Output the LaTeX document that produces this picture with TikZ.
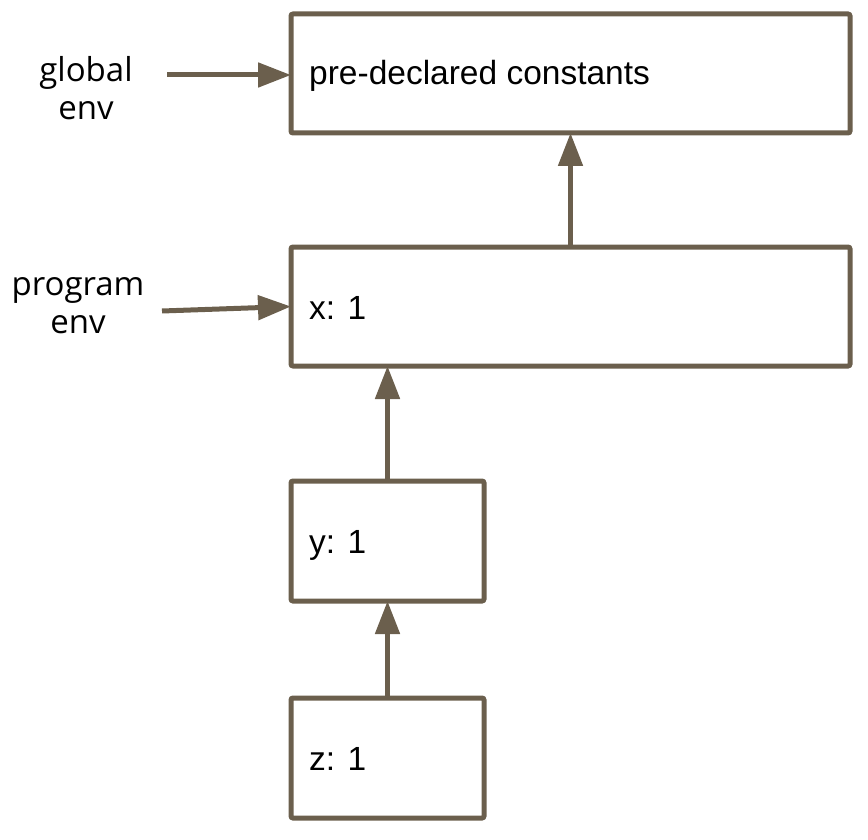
\documentclass[tikz,border=0pt]{standalone}
\usepackage{fontspec}
\setmainfont{Liberation Sans}
\newfontfamily\opensans{Open Sans}
\usetikzlibrary{arrows.meta}
\definecolor{envline}{RGB}{107,95,77}
\begin{document}
\begin{tikzpicture}[x=1pt,y=1pt,
  frame/.style={draw=envline, line width=5pt, rounded corners=2pt, outer sep=0pt, inner sep=0pt},
  link/.style={draw=envline, line width=5pt, -{Triangle[length=33pt,width=24pt]}},
  boxtext/.style={anchor=base west, inner sep=0pt, font=\fontsize{33.5}{38}\selectfont},
  envlabel/.style={align=center, inner sep=0pt, font=\opensans\fontsize{33}{38}\selectfont}]
\useasboundingbox (0,0) rectangle (868,-840);
\node[frame, minimum width=559pt, minimum height=119pt] (top) at (570.5,-73.5) {};
\node[frame, minimum width=559pt, minimum height=119pt] (prog) at (570.5,-306.5) {};
\node[frame, minimum width=193pt, minimum height=120pt] (ybox) at (387.5,-541) {};
\node[frame, minimum width=193pt, minimum height=120pt] (zbox) at (387.5,-758) {};
\node[boxtext] (ttop) at (309,-85) {pre-declared constants};
\node[boxtext] (tprog) at (309,-319) {x: 1};
\node[boxtext] (ty) at (309,-553) {y: 1};
\node[boxtext] (tz) at (309,-770) {z: 1};
\node[envlabel] (glab) at (86,-88) {global\\env};
\node[envlabel] (plab) at (78,-306) {program\\env};
\coordinate (gstart) at (167,-75);
\coordinate (pstart) at (162,-311);
\draw[link] (gstart) -- (gstart -| top.west);
\draw[link] (pstart) -- (prog.west);
\draw[link] (prog.north) -- (top.south);
\draw[link] (ybox.north) -- (ybox.north |- prog.south);
\draw[link] (zbox.north) -- (ybox.south);
\end{tikzpicture}
\end{document}
